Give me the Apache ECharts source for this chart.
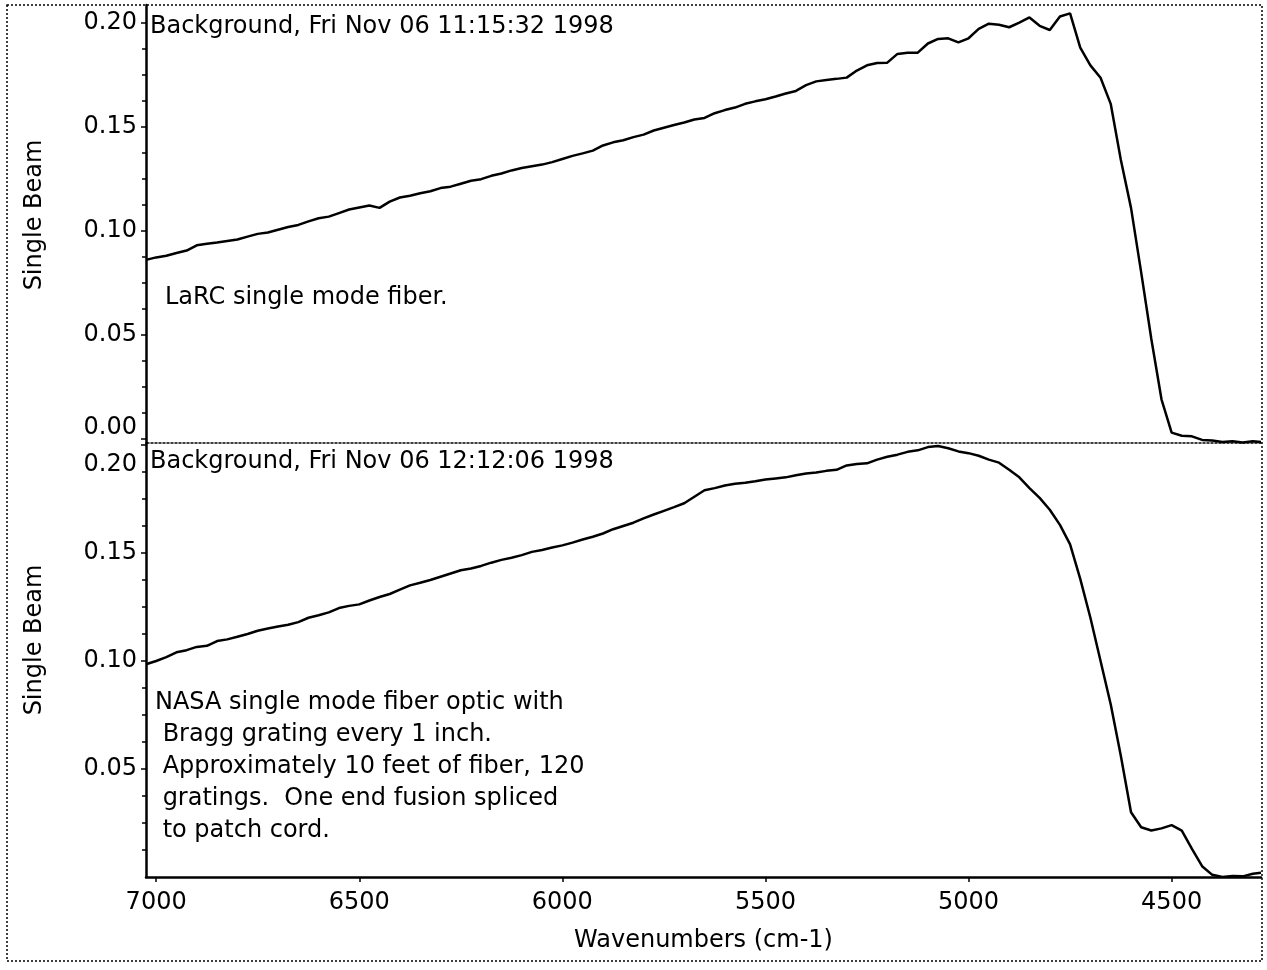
<!DOCTYPE html>
<html>
<head>
<meta charset="utf-8">
<script src="https://cdn.jsdelivr.net/npm/echarts/dist/echarts.min.js"></script>
<style>
html,body{margin:0;padding:0;background:#fff;}
#chart{width:1267px;height:970px;}
</style>
</head>
<body>
<div id="chart"></div>
<script>
// ---------------- data ----------------
const wavenumbers = [7025,7000,6975,6950,6925,6900,6875,6850,6825,6800,6775,6750,6725,6700,6675,6650,6625,6600,6575,6550,6525,6500,6475,6450,6425,6400,6375,6350,6325,6300,6275,6250,6225,6200,6175,6150,6125,6100,6075,6050,6025,6000,5975,5950,5925,5900,5875,5850,5825,5800,5775,5750,5725,5700,5675,5650,5625,5600,5575,5550,5525,5500,5475,5450,5425,5400,5375,5350,5325,5300,5275,5250,5225,5200,5175,5150,5125,5100,5075,5050,5025,5000,4975,4950,4925,4900,4875,4850,4825,4800,4775,4750,4725,4700,4675,4650,4625,4600,4575,4550,4525,4500,4475,4450,4425,4400,4375,4350,4325,4300,4280];

// top panel: LaRC single mode fiber
const larcSingleBeam = [0.0860,0.0872,0.0880,0.0893,0.0905,0.0930,0.0938,0.0944,0.0951,0.0958,0.0972,0.0985,0.0992,0.1005,0.1018,0.1028,0.1045,0.1060,0.1068,0.1085,0.1102,0.1112,0.1121,0.1110,0.1140,0.1160,0.1168,0.1180,0.1190,0.1205,0.1212,0.1226,0.1240,0.1248,0.1264,0.1275,0.1290,0.1302,0.1310,0.1318,0.1330,0.1345,0.1360,0.1372,0.1385,0.1410,0.1425,0.1435,0.1450,0.1462,0.1482,0.1495,0.1508,0.1520,0.1535,0.1542,0.1565,0.1580,0.1592,0.1610,0.1622,0.1632,0.1645,0.1660,0.1672,0.1700,0.1718,0.1725,0.1730,0.1736,0.1770,0.1795,0.1806,0.1808,0.1850,0.1855,0.1856,0.1900,0.1922,0.1925,0.1905,0.1925,0.1970,0.1995,0.1990,0.1978,0.2000,0.2025,0.1985,0.1965,0.2030,0.2045,0.1880,0.1795,0.1735,0.1610,0.1340,0.1110,0.0800,0.0480,0.0190,0.0030,0.0015,0.0012,-0.0005,-0.0008,-0.0015,-0.0012,-0.0018,-0.0012,-0.0015];

// bottom panel: NASA single mode fiber with Bragg gratings
const nasaSingleBeam = [0.0985,0.1000,0.1018,0.1040,0.1050,0.1065,0.1070,0.1092,0.1100,0.1112,0.1125,0.1140,0.1150,0.1160,0.1168,0.1180,0.1200,0.1212,0.1225,0.1245,0.1255,0.1262,0.1280,0.1296,0.1310,0.1330,0.1350,0.1362,0.1375,0.1390,0.1405,0.1420,0.1428,0.1440,0.1455,0.1468,0.1478,0.1490,0.1505,0.1514,0.1525,0.1535,0.1548,0.1562,0.1575,0.1590,0.1610,0.1625,0.1640,0.1660,0.1678,0.1695,0.1712,0.1730,0.1760,0.1790,0.1800,0.1812,0.1820,0.1825,0.1832,0.1840,0.1845,0.1850,0.1860,0.1868,0.1872,0.1880,0.1885,0.1905,0.1912,0.1915,0.1932,0.1945,0.1955,0.1968,0.1975,0.1990,0.1995,0.1985,0.1970,0.1962,0.1950,0.1932,0.1918,0.1885,0.1850,0.1800,0.1755,0.1700,0.1630,0.1540,0.1380,0.1200,0.1000,0.0800,0.0560,0.0300,0.0230,0.0215,0.0225,0.0240,0.0215,0.0130,0.0050,0.0010,0.0000,0.0005,0.0003,0.0015,0.0020];

const xTickValues = [7000, 6500, 6000, 5500, 5000, 4500];
const topYTickValues = [0, 0.05, 0.10, 0.15, 0.20];
const bottomYTickValues = [0.05, 0.10, 0.15, 0.20];

const topTitle = 'Background, Fri Nov 06 11:15:32 1998';
const bottomTitle = 'Background, Fri Nov 06 12:12:06 1998';
const topNote = 'LaRC single mode fiber.';
const bottomNoteLines = [
  'NASA single mode fiber optic with',
  ' Bragg grating every 1 inch.',
  ' Approximately 10 feet of fiber, 120',
  ' gratings.  One end fusion spliced',
  ' to patch cord.'
];
const xAxisTitle = 'Wavenumbers (cm-1)';
const yAxisTitle = 'Single Beam';

// ---------------- chart ----------------
const FONT = '"DejaVu Sans", "Liberation Sans", Arial, sans-serif';
const txt = { fontFamily: FONT, fontSize: 24, color: '#000' };
const gFont = '24px ' + FONT;
const near = (a, b) => Math.abs(a - b) < 1e-9;

const chart = echarts.init(document.getElementById('chart'), null, { renderer: 'canvas' });

const option = {
  animation: false,
  backgroundColor: '#fff',
  grid: [
    { left: 146, top: 5, width: 1115, height: 438 },
    { left: 146, top: 443, width: 1115, height: 434 }
  ],
  xAxis: [
    {
      gridIndex: 0, type: 'value', min: 4280, max: 7025, inverse: true, position: 'bottom',
      axisLine: { show: true, onZero: false, lineStyle: { color: '#000', width: 1.5, type: [2, 2] } },
      axisTick: { show: false }, axisLabel: { show: false }, splitLine: { show: false }
    },
    {
      gridIndex: 1, type: 'value', min: 4280, max: 7025, inverse: true, position: 'bottom',
      name: xAxisTitle, nameLocation: 'middle', nameGap: 52, nameTextStyle: txt,
      axisLine: { show: true, onZero: false, lineStyle: { color: '#000', width: 2.5 } },
      axisTick: { show: true, customValues: xTickValues, length: 5, lineStyle: { color: '#000', width: 1.5 } },
      axisLabel: Object.assign({ customValues: xTickValues, margin: 14, formatter: v => String(v) }, txt),
      splitLine: { show: false }
    }
  ],
  yAxis: [
    {
      gridIndex: 0, type: 'value', min: -0.002, max: 0.2085,
      name: yAxisTitle, nameLocation: 'middle', nameGap: 99,
      nameTextStyle: Object.assign({ padding: [0, 0, 0, 18] }, txt),
      axisLine: { show: true, onZero: false, lineStyle: { color: '#000', width: 2.5 } },
      axisTick: { show: true, customValues: topYTickValues, length: 5, lineStyle: { color: '#000', width: 1.5 } },
      minorTick: { show: true, splitNumber: 4, length: 4, lineStyle: { color: '#000', width: 1.5 } },
      axisLabel: Object.assign({
        customValues: topYTickValues, margin: 9,
        formatter: v => near(v, 0) ? '{lo|0.00}' : v.toFixed(2),
        rich: { lo: Object.assign({ padding: [0, 0, 22, 0] }, txt) }
      }, txt),
      splitLine: { show: false }
    },
    {
      gridIndex: 1, type: 'value', min: 0, max: 0.2009,
      name: yAxisTitle, nameLocation: 'middle', nameGap: 99,
      nameTextStyle: Object.assign({ padding: [0, 0, 0, 40] }, txt),
      axisLine: { show: true, onZero: false, lineStyle: { color: '#000', width: 2.5 } },
      axisTick: { show: true, customValues: bottomYTickValues, length: 5, lineStyle: { color: '#000', width: 1.5 } },
      minorTick: { show: true, splitNumber: 4, length: 4, lineStyle: { color: '#000', width: 1.5 } },
      axisLabel: Object.assign({
        customValues: bottomYTickValues, margin: 9,
        formatter: v => near(v, 0.2) ? '{hi|0.20}' : v.toFixed(2),
        rich: { hi: Object.assign({ padding: [40, 0, 0, 0] }, txt) }
      }, txt),
      splitLine: { show: false }
    }
  ],
  series: [
    {
      name: 'LaRC', type: 'line', xAxisIndex: 0, yAxisIndex: 0,
      data: wavenumbers.map((w, i) => [w, larcSingleBeam[i]]),
      showSymbol: false, symbol: 'none', clip: true,
      lineStyle: { color: '#000', width: 2.5 }
    },
    {
      name: 'NASA', type: 'line', xAxisIndex: 1, yAxisIndex: 1,
      data: wavenumbers.map((w, i) => [w, nasaSingleBeam[i]]),
      showSymbol: false, symbol: 'none', clip: true,
      lineStyle: { color: '#000', width: 2.5 }
    }
  ],
  graphic: [
    {
      type: 'rect', silent: true, z: 1,
      shape: { x: 7, y: 5, width: 1255, height: 956 },
      style: { fill: 'none', stroke: '#000', lineWidth: 1.5, lineDash: [2, 2] }
    },
    {
      type: 'text', x: 150, y: 27, silent: true,
      style: { text: topTitle, font: gFont, fill: '#000', align: 'left', verticalAlign: 'middle' }
    },
    {
      type: 'text', x: 165, y: 298, silent: true,
      style: { text: topNote, font: gFont, fill: '#000', align: 'left', verticalAlign: 'middle' }
    },
    {
      type: 'text', x: 150, y: 462, silent: true,
      style: { text: bottomTitle, font: gFont, fill: '#000', align: 'left', verticalAlign: 'middle' }
    },
    {
      type: 'text', x: 155, y: 687, silent: true,
      style: { text: bottomNoteLines.join('\n'), font: gFont, fill: '#000', align: 'left', verticalAlign: 'top', lineHeight: 32 }
    }
  ]
};

chart.setOption(option);
</script>
</body>
</html>
